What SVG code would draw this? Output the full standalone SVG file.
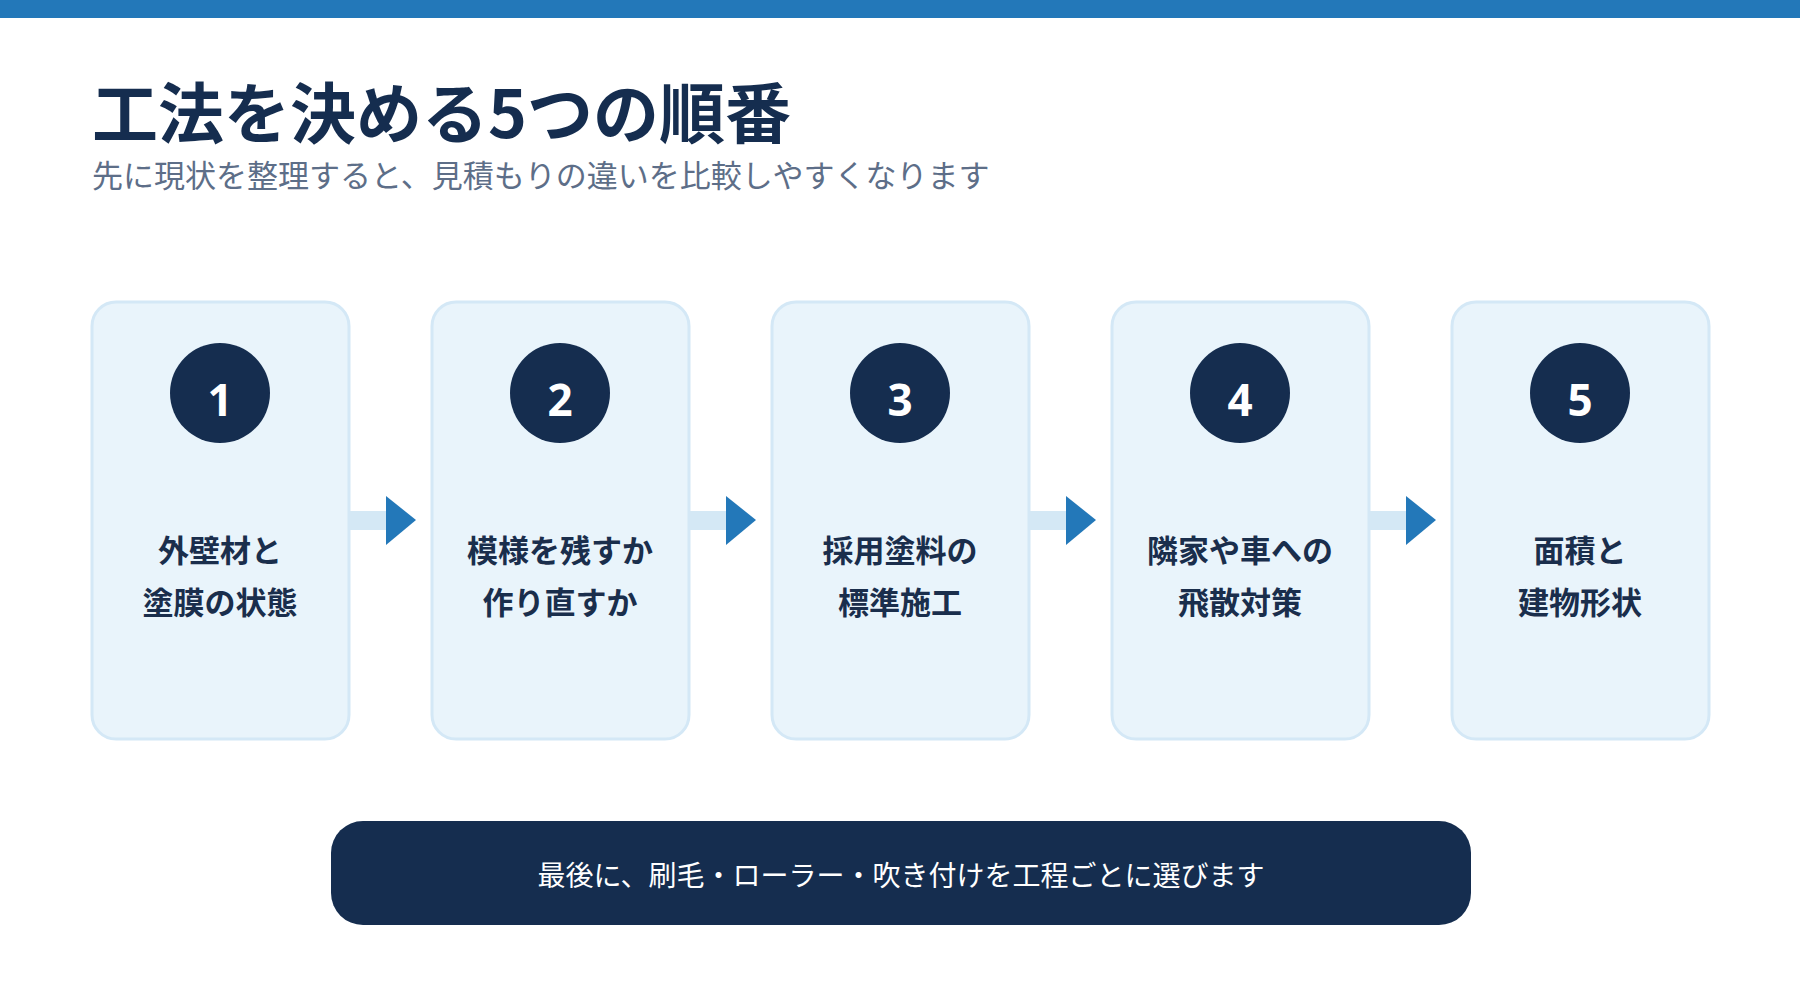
<svg xmlns="http://www.w3.org/2000/svg" width="1800" height="1000" viewBox="0 0 1800 1000">
<style>
.t{font-family:"Noto Sans CJK JP","Noto Sans",sans-serif}
.card{fill:#e9f4fb;stroke:#d4e8f6;stroke-width:3}
.circ{fill:#152d4f}
.num{font-family:"Noto Sans","Noto Sans CJK JP",sans-serif;font-weight:700;font-size:44px;fill:#fff;text-anchor:middle}
.lbl{font-weight:700;font-size:31px;fill:#1a2e4c;text-anchor:middle}
.bar{fill:#d4e8f5}
.tri{fill:#2378b9}
</style>
<rect x="0" y="0" width="1800" height="18" fill="#2378b9"/>
<text class="t" x="92" y="138" font-size="66" font-weight="700" fill="#152d4f">工法を決める5つの順番</text>
<text class="t" x="92" y="187" font-size="31" fill="#5d6e88">先に現状を整理すると、見積もりの違いを比較しやすくなります</text>
<g id="connectors">
<rect class="bar" x="349" y="511" width="42" height="19"/><polygon class="tri" points="386,496 416,520 386,545"/>
<rect class="bar" x="689" y="511" width="42" height="19"/><polygon class="tri" points="726,496 756,520 726,545"/>
<rect class="bar" x="1029" y="511" width="42" height="19"/><polygon class="tri" points="1066,496 1096,520 1066,545"/>
<rect class="bar" x="1369" y="511" width="42" height="19"/><polygon class="tri" points="1406,496 1436,520 1406,545"/>
</g>
<g id="n1"><rect class="card" x="92" y="302" width="257" height="437" rx="24"/><circle class="circ" cx="220" cy="393" r="50"/><text class="num" x="220" y="416">1</text><text class="t lbl" x="220" y="562">外壁材と</text><text class="t lbl" x="220" y="614">塗膜の状態</text></g>
<g id="n2"><rect class="card" x="432" y="302" width="257" height="437" rx="24"/><circle class="circ" cx="560" cy="393" r="50"/><text class="num" x="560" y="416">2</text><text class="t lbl" x="560" y="562">模様を残すか</text><text class="t lbl" x="560" y="614">作り直すか</text></g>
<g id="n3"><rect class="card" x="772" y="302" width="257" height="437" rx="24"/><circle class="circ" cx="900" cy="393" r="50"/><text class="num" x="900" y="416">3</text><text class="t lbl" x="900" y="562">採用塗料の</text><text class="t lbl" x="900" y="614">標準施工</text></g>
<g id="n4"><rect class="card" x="1112" y="302" width="257" height="437" rx="24"/><circle class="circ" cx="1240" cy="393" r="50"/><text class="num" x="1240" y="416">4</text><text class="t lbl" x="1240" y="562">隣家や車への</text><text class="t lbl" x="1240" y="614">飛散対策</text></g>
<g id="n5"><rect class="card" x="1452" y="302" width="257" height="437" rx="24"/><circle class="circ" cx="1580" cy="393" r="50"/><text class="num" x="1580" y="416">5</text><text class="t lbl" x="1580" y="562">面積と</text><text class="t lbl" x="1580" y="614">建物形状</text></g>
<g id="banner"><rect x="331" y="821" width="1140" height="104" rx="32" fill="#152d4f"/><text class="t" x="901" y="886" font-size="28" fill="#fff" text-anchor="middle">最後に、刷毛・ローラー・吹き付けを工程ごとに選びます</text></g>
</svg>
